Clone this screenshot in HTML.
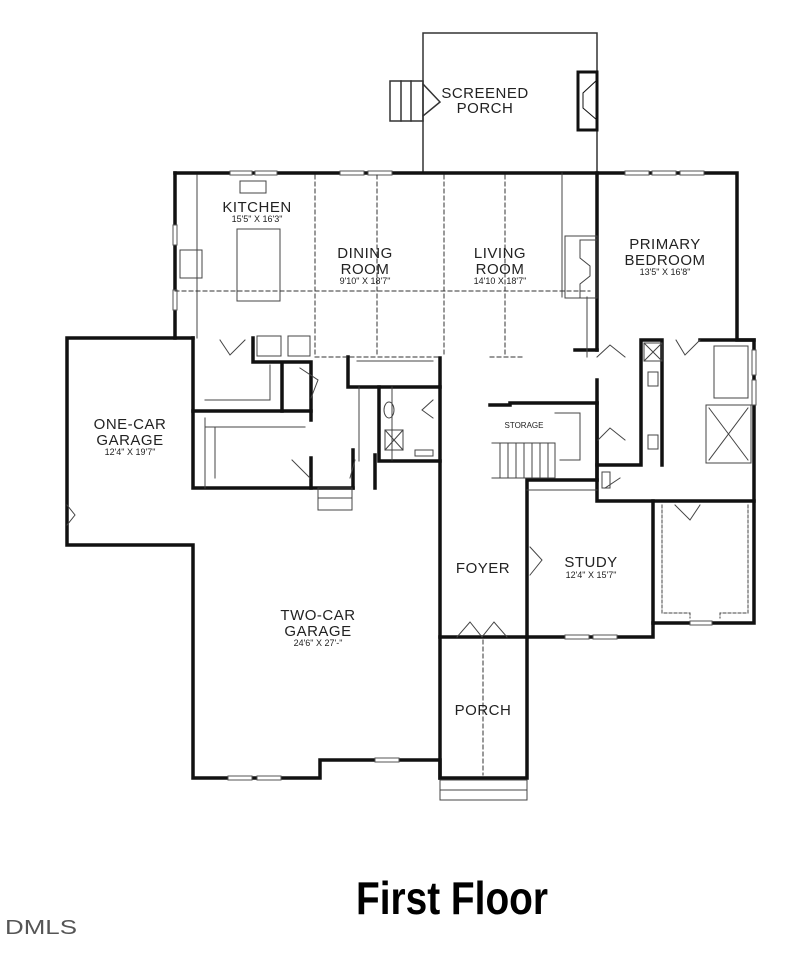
<!DOCTYPE html>
<html><head><meta charset="utf-8"><style>
html,body{margin:0;padding:0;background:#fff;}
svg{display:block}
text{font-family:"Liberation Sans",sans-serif;fill:#222;text-anchor:middle}
.t{font-size:15px;letter-spacing:0.5px}
.s{font-size:9px}
</style></head><body>
<svg width="800" height="968" viewBox="0 0 800 968" xmlns="http://www.w3.org/2000/svg">
<g fill="none" stroke="#111" stroke-linecap="square">
<g stroke="#333" stroke-width="1.5">
<rect x="423" y="33" width="174" height="140"/>
<rect x="390" y="81" width="33" height="40"/>
<line x1="401" y1="81" x2="401" y2="121"/><line x1="411" y1="81" x2="411" y2="121"/>
<path d="M423 84 L440 102 L423 116"/>
</g>
<rect x="578" y="72" width="19" height="58" stroke-width="3"/>
<path d="M597 80 L583 93 L583 108 L597 120" stroke-width="1"/>
<g stroke-width="3.5">
<path d="M175 173 L737 173 L737 340 L754 340 L754 623 L653 623 L653 637 L527 637 L527 778 L440 778 L440 760 L320 760 L320 778 L193 778 L193 545 L67 545 L67 338 L193 338"/>
<path d="M175 173 L175 338"/>
<path d="M193 338 L193 488 L353 488"/>
<path d="M193 411 L311 411"/>
<path d="M282 362 L282 411 M253 338 L253 362 L311 362 L311 420 M311 458 L311 488"/>
<path d="M348 357 L348 387 L440 387 L440 358"/>
<path d="M379 387 L379 461 L440 461"/>
<path d="M353 450 L353 488 M375 455 L375 488"/>
<path d="M440 387 L440 778"/>
<path d="M440 637 L527 637"/>
<path d="M490 405 L510 405 L510 403 L597 403"/>
<path d="M527 480 L527 637 M527 480 L597 480"/>
<path d="M597 173 L597 350 M597 380 L597 501 L754 501"/>
<path d="M641 340 L662 340 L662 465 M641 340 L641 465 L597 465"/>
<path d="M653 501 L653 623 M700 340 L754 340"/>
<path d="M575 350 L597 350 M597 403 L597 480"/>
</g>
<!-- windows -->
<g fill="#fff" stroke="#555" stroke-width="1">
<rect x="230" y="171" width="22" height="4"/><rect x="255" y="171" width="22" height="4"/>
<rect x="340" y="171" width="24" height="4"/><rect x="368" y="171" width="24" height="4"/>
<rect x="625" y="171" width="24" height="4"/><rect x="652" y="171" width="24" height="4"/><rect x="680" y="171" width="24" height="4"/>
<rect x="173" y="225" width="4" height="20"/><rect x="173" y="290" width="4" height="20"/>
<rect x="752" y="350" width="4" height="25"/><rect x="752" y="380" width="4" height="25"/>
<rect x="228" y="776" width="24" height="4"/><rect x="257" y="776" width="24" height="4"/>
<rect x="375" y="758" width="24" height="4"/>
<rect x="565" y="635" width="24" height="4"/><rect x="593" y="635" width="24" height="4"/>
<rect x="690" y="621" width="22" height="4"/>
</g>
<g stroke="#444" stroke-width="1">
<line x1="197" y1="175" x2="197" y2="338"/>
<rect x="237" y="229" width="43" height="72"/>
<rect x="240" y="181" width="26" height="12"/>
<rect x="180" y="250" width="22" height="28"/>
<rect x="565" y="236" width="32" height="62"/>
<path d="M597 240 L580 240 L580 258 L590 266 L590 276 L580 284 L580 298 L597 298"/>
<path d="M562 173 L562 297 M587 297 L587 357"/>
<rect x="257" y="336" width="24" height="20"/>
<rect x="288" y="336" width="22" height="20"/>
<path d="M205 400 L270 400 L270 365 M205 427 L305 427 M215 427 L215 478 M205 418 L205 488"/>
<path d="M359 387 L359 461 M392 387 L392 460 M357 361 L433 361"/>
<rect x="385" y="430" width="18" height="20"/><path d="M385 430 L403 450 M403 430 L385 450"/>
<ellipse cx="389" cy="410" rx="5" ry="8"/>
<rect x="415" y="450" width="18" height="6"/>
<path d="M492 443 L555 443 L555 478 L492 478 M500 443 L500 478 M508 443 L508 478 M516 443 L516 478 M524 443 L524 478 M532 443 L532 478 M540 443 L540 478 M548 443 L548 478"/>
<path d="M555 413 L580 413 L580 460 L560 460"/>
<path d="M527 490 L597 490"/>
<rect x="644" y="343" width="18" height="18"/><path d="M644 343 L662 361 M662 343 L644 361"/>
<rect x="648" y="372" width="10" height="14"/><rect x="648" y="435" width="10" height="14"/>
<rect x="714" y="346" width="34" height="52"/>
<rect x="706" y="405" width="45" height="58"/><path d="M709 408 L748 460 M748 408 L709 460"/>
<rect x="602" y="472" width="8" height="16"/>
<path d="M662 505 L662 613 L690 613 L690 618 M748 505 L748 613 L720 613 L720 618" stroke-dasharray="3 2"/>
<rect x="440" y="780" width="87" height="20"/><line x1="440" y1="790" x2="527" y2="790"/>
<rect x="318" y="488" width="34" height="22"/><line x1="318" y1="498" x2="352" y2="498"/>
<path d="M220 340 L230 355 L245 340 M300 368 L318 380 L311 398 M433 400 L422 410 L433 418 M292 460 L310 478 M355 460 L350 478 M457 637 L470 622 L482 637 L494 622 L507 637 M530 547 L542 560 L530 575 M597 357 L610 345 L625 357 M598 440 L610 428 L625 440 M676 340 L685 355 L700 340 M605 488 L620 478 M675 505 L690 520 L700 505 M67 505 L75 515 L67 525"/>
</g>
<g stroke="#333" stroke-width="1" stroke-dasharray="4 3">
<line x1="315" y1="175" x2="315" y2="357"/><line x1="377" y1="175" x2="377" y2="357"/>
<line x1="444" y1="175" x2="444" y2="357"/><line x1="505" y1="175" x2="505" y2="357"/>
<line x1="175" y1="291" x2="590" y2="291"/>
<line x1="315" y1="357" x2="440" y2="357"/><line x1="490" y1="357" x2="525" y2="357"/>
<line x1="483" y1="640" x2="483" y2="775"/>
</g>
</g>
<text class="t" x="257" y="212">KITCHEN</text><text class="s" x="257" y="222">15'5" X 16'3"</text>
<text class="t" x="365" y="258">DINING</text><text class="t" x="365" y="274">ROOM</text><text class="s" x="365" y="284">9'10" X 18'7"</text>
<text class="t" x="500" y="258">LIVING</text><text class="t" x="500" y="274">ROOM</text><text class="s" x="500" y="284">14'10 X 18'7"</text>
<text class="t" x="665" y="249">PRIMARY</text><text class="t" x="665" y="265">BEDROOM</text><text class="s" x="665" y="275">13'5" X 16'8"</text>
<text class="t" x="485" y="98">SCREENED</text><text class="t" x="485" y="113">PORCH</text>
<text class="t" x="130" y="429">ONE-CAR</text><text class="t" x="130" y="445">GARAGE</text><text class="s" x="130" y="455">12'4" X 19'7"</text>
<text class="t" x="318" y="620">TWO-CAR</text><text class="t" x="318" y="636">GARAGE</text><text class="s" x="318" y="646">24'6" X 27'-"</text>
<text class="t" x="483" y="573">FOYER</text>
<text class="t" x="591" y="567">STUDY</text><text class="s" x="591" y="578">12'4" X 15'7"</text>
<text class="t" x="483" y="715">PORCH</text>
<text style="font-size:8px" x="524" y="428">STORAGE</text>
<text x="356" y="914" textLength="192" lengthAdjust="spacingAndGlyphs" style="text-anchor:start;font-size:46px;font-weight:bold;fill:#000">First Floor</text>
<text x="5" y="934" textLength="72" lengthAdjust="spacingAndGlyphs" style="text-anchor:start;font-size:20px;fill:#555">DMLS</text>
</svg>
</body></html>
